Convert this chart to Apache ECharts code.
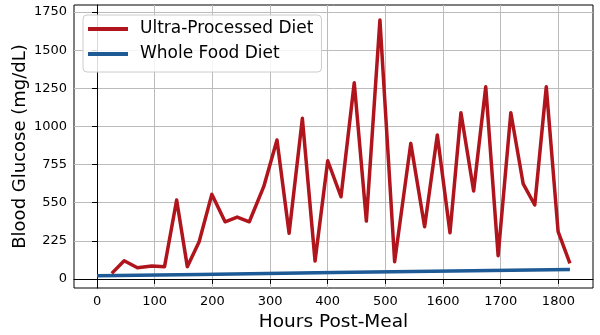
<!DOCTYPE html>
<html>
<head>
<meta charset="utf-8">
<script src="https://cdn.jsdelivr.net/npm/echarts@6/dist/echarts.min.js"></script>
<style>html,body{margin:0;padding:0;background:#fff}#c{width:600px;height:335px}</style>
</head>
<body>
<div id="c"></div>
<script>
// ---- data ----
var redX = [25.5,47,70,95,117,138,156.5,177,199,222,243,264,289,312,333,356,378,400,423,446,467,490.5,516,544,568,590,612,631,653,674,695.5,717.5,739,759,779,799.5,820];
var redY = [37,120,74,85,81,518,81,244,555,375,406,375,605,911,300,1053,118,775,539,1286,380,1697,113,889,343,944,303,1090,577,1260,153,1090,623,485,1260,310,103];
var blueX = [0,178,410,820];
var blueY = [21,30,42,62];
var xTickValues = [0,100,200,300,400,500,600,700,800];
var xTickLabels = ["0","100","200","300","400","500","1600","1700","1800"];
var yTickValues = [0,250,500,750,1000,1250,1500,1750];
var yTickLabels = ["0","225","550","755","1000","1250","1500","1750"];
var seriesNames = ["Ultra-Processed Diet","Whole Food Diet"];

function zip(a,b){var r=[];for(var i=0;i<a.length;i++)r.push([a[i],b[i]]);return r;}
var font = "DejaVu Sans";
var chart = echarts.init(document.getElementById('c'), null, {renderer:'canvas'});
chart.setOption({
  animation:false,
  backgroundColor:'#ffffff',
  textStyle:{fontFamily:font},
  grid:{left:74,right:7,top:5,bottom:47,show:true,borderColor:'#000',borderWidth:1,backgroundColor:'transparent',
        containLabel:false,outerBoundsMode:'none'},
  legend:{
    left:83, top:15, orient:'vertical',
    padding:[4,8,8,5], itemGap:5,
    itemWidth:40, itemHeight:4, icon:'rect',
    borderColor:'#cccccc', borderWidth:1, borderRadius:4,
    backgroundColor:'rgba(255,255,255,0.85)',
    textStyle:{fontFamily:font,fontSize:17,color:'#000',lineHeight:20,padding:[0,0,0,7]},
    data:seriesNames
  },
  xAxis:{
    type:'value', min:-40, max:860,
    name:'Hours Post-Meal', nameLocation:'middle', nameGap:25, nameMoveOverlap:false,
    nameTextStyle:{fontFamily:font,fontSize:18.5,color:'#000'},
    axisLine:{show:true,lineStyle:{color:'#000',width:1}},
    axisTick:{show:true,length:5,customValues:xTickValues,lineStyle:{color:'#000'}},
    axisLabel:{customValues:xTickValues,margin:7,fontFamily:font,fontSize:13,color:'#000',
      formatter:function(v){var i=xTickValues.indexOf(v);return i>=0?xTickLabels[i]:'';}},
    splitLine:{show:true,lineStyle:{color:'#bbbbbb',width:1}}
  },
  yAxis:{
    type:'value', min:-59, max:1796,
    name:'Blood Glucose (mg/dL)', nameLocation:'middle', nameGap:45, nameMoveOverlap:false,
    nameTextStyle:{fontFamily:font,fontSize:18,color:'#000'},
    axisLine:{show:true,lineStyle:{color:'#000',width:1}},
    axisTick:{show:true,length:5,customValues:yTickValues,lineStyle:{color:'#000'}},
    axisLabel:{customValues:yTickValues,margin:7,fontFamily:font,fontSize:13,color:'#000',
      formatter:function(v){var i=yTickValues.indexOf(v);return i>=0?yTickLabels[i]:'';}},
    splitLine:{show:true,lineStyle:{color:'#bbbbbb',width:1}}
  },
  series:[
    {name:seriesNames[0],type:'line',data:zip(redX,redY),showSymbol:false,symbol:'none',
     lineStyle:{color:'#b0141c',width:3.5,join:'round'},itemStyle:{color:'#b0141c'},z:3},
    {name:seriesNames[1],type:'line',data:zip(blueX,blueY),showSymbol:false,symbol:'none',
     lineStyle:{color:'#1d5a96',width:3.5},itemStyle:{color:'#1d5a96'},z:2}
  ]
});
</script>
</body>
</html>
